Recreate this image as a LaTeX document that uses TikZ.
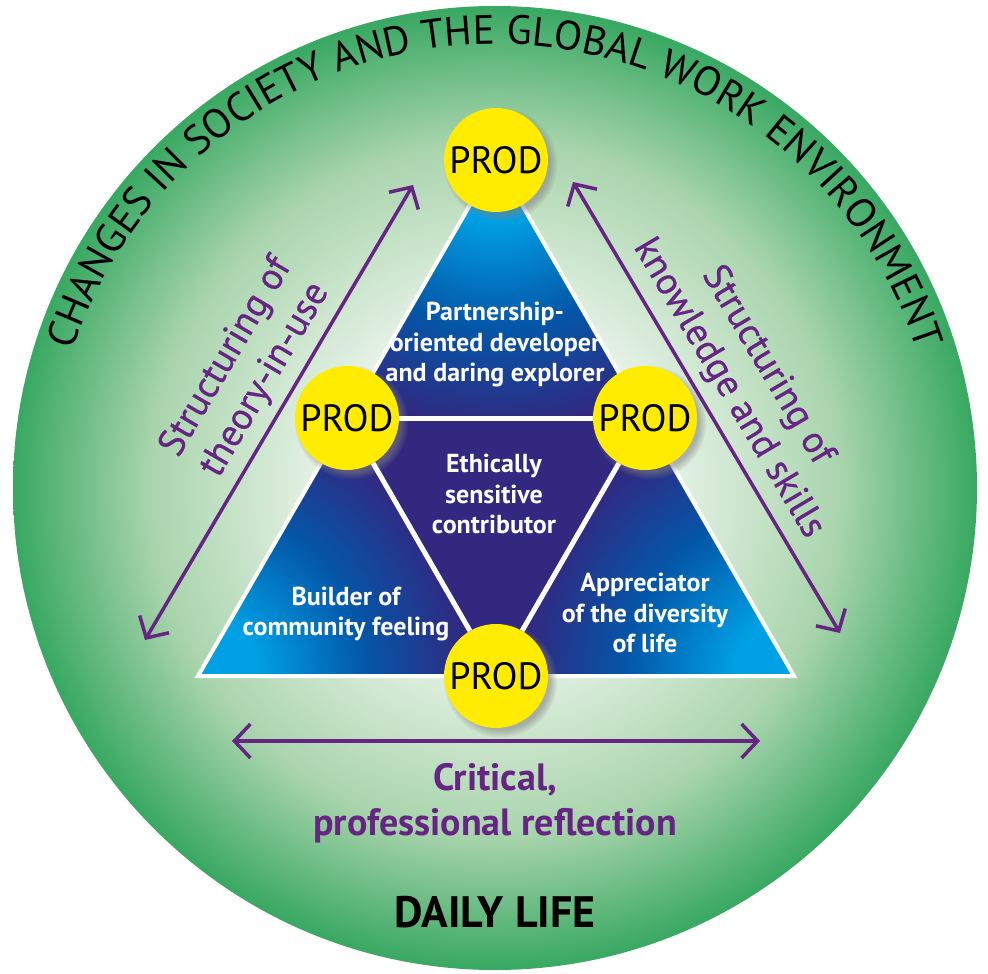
\documentclass[tikz,border=0pt]{standalone}
\usepackage{fontspec}
\setmainfont{PT Sans}
\newfontfamily\semifont{PT Sans}[FakeBold=0.7]
\usetikzlibrary{arrows.meta,shadows,decorations.text}

\definecolor{ringgreen}{RGB}{56,168,98}
\definecolor{ringmid}{RGB}{168,212,172}
\definecolor{glowpale}{RGB}{230,242,230}
\definecolor{triapurple}{RGB}{50,40,128}
\definecolor{trianavy}{RGB}{4,86,168}
\definecolor{triacyan}{RGB}{0,160,228}
\definecolor{prodyellow}{RGB}{255,236,0}
\definecolor{arrowpurple}{RGB}{102,36,131}

% the middle 25bp of a shading covers the path
\pgfdeclareradialshading{ringglow}{\pgfpoint{0bp}{0bp}}{color(0bp)=(glowpale); color(9bp)=(glowpale); color(18bp)=(ringmid); color(25bp)=(ringgreen); color(50bp)=(ringgreen)}
\pgfdeclareradialshading{cornerglow}{\pgfpoint{0bp}{0bp}}{color(0bp)=(triacyan); color(5bp)=(triacyan); color(14bp)=(trianavy); color(22.5bp)=(triapurple); color(50bp)=(triapurple)}

\tikzset{
	prod/.style={circle, fill=prodyellow, minimum size=104pt, inner sep=0pt, font=\fontsize{38}{38}\selectfont, circular drop shadow={shadow xshift=4pt, shadow yshift=-4pt, opacity=.55}},
	role/.style={text=white, align=center, font=\fontsize{26}{30.5}\selectfont\bfseries},
	twoway/.style={draw=arrowpurple, line width=3.5pt, {Straight Barb[length=16pt,width=34pt]}-{Straight Barb[length=16pt,width=34pt]}},
	axislabel/.style={text=arrowpurple, align=center, font=\fontsize{38}{45}\selectfont\semifont},
}

\begin{document}
\begin{tikzpicture}[x=1pt,y=-1pt]
			%%%%% START %%%%%
			
			\fill[white] (0,0) rectangle (988,974);
			
			% green ring
			\coordinate (hub) at (495,488);
			\shade[shading=ringglow] (hub) circle (482);
			\path[decorate, decoration={text along path, text align=center,
				text={|\fontsize{41}{41}\selectfont|CHANGES IN SOCIETY AND THE GLOBAL WORK ENVIRONMENT}}]
				(hub) ++(170:444) arc[start angle=170, end angle=370, radius=444];
			
			% triangle
			\coordinate (apex) at (496,160);
			\coordinate (cornerl) at (198,676);
			\coordinate (cornerr) at (794,676);
			\coordinate (midl) at (347,418);
			\coordinate (midr) at (645,418);
			\coordinate (midb) at (496,676);
			\fill[triapurple] (midl) -- (midr) -- (midb) -- cycle;
			\foreach \tip/\sidea/\sideb in {apex/midl/midr, cornerl/midl/midb, cornerr/midr/midb}{
				\begin{scope}
					\clip (\tip) -- (\sidea) -- (\sideb) -- cycle;
					\shade[shading=cornerglow] (\tip) circle (300);
				\end{scope}
			}
			\draw[white, line width=4pt] (apex) -- (cornerl) -- (cornerr) -- cycle;
			
			\node[prod] (prodt) at (apex) {PROD};
			\node[prod] (prodl) at (midl) {PROD};
			\node[prod] (prodr) at (midr) {PROD};
			\node[prod] (prodb) at (midb) {PROD};
			
			\draw[white, line width=5pt] (prodl) -- (prodr);
			\draw[white, line width=5pt] (prodr) -- (prodb);
			\draw[white, line width=5pt] (prodb) -- (prodl);
			
			\node[role] (partner) at (495,345) {Partnership-\\oriented developer\\and daring explorer};
			\node[role] (ethic) at (494,494) {Ethically\\sensitive\\contributor};
			\node[role] (builder) at (346,614) {Builder of\\community feeling};
			\node[role] (appreciator) at (645,613) {Appreciator\\of the diversity\\of life};
			
			% arrows
			\coordinate (theorylow) at (145,640);
			\coordinate (theoryhigh) at (413,185);
			\draw[twoway] (theorylow) -- node[axislabel, sloped, anchor=south, pos=.54, inner sep=9pt] (theory) {Structuring of\\theory-in-use} (theoryhigh);
			
			\coordinate (skillshigh) at (573,182);
			\coordinate (skillslow) at (840,633);
			\draw[twoway] (skillshigh) -- node[axislabel, sloped, anchor=south, pos=.49, inner sep=9pt] (skills) {Structuring of\\knowledge and skills} (skillslow);
			
			\coordinate (reflleft) at (232,741);
			\coordinate (reflright) at (760,741);
			\draw[twoway] (reflleft) -- (reflright);
			\node[axislabel, font=\fontsize{38}{45}\selectfont\bfseries] (reflection) at (495,803) {Critical,\\professional reflection};
			
			\node[font=\fontsize{44}{44}\selectfont\bfseries] (daily) at (495,912) {DAILY LIFE};
			
			%%%%% END %%%%%
\end{tikzpicture}
\end{document}
